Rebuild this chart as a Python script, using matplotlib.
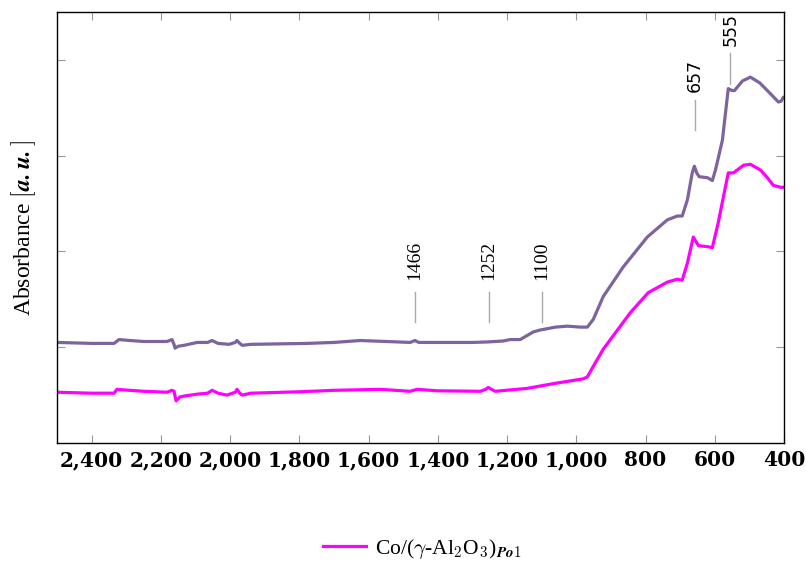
import matplotlib
matplotlib.use("Agg")
import matplotlib.pyplot as plt
from matplotlib.lines import Line2D

plt.rcParams['mathtext.fontset'] = 'cm'
plt.rcParams['font.family'] = ['Liberation Serif', 'DejaVu Serif']

# Upper (purple) spectrum
x_purple = [2500, 2400, 2335, 2321, 2289, 2250, 2182, 2168, 2162, 2159, 2150, 2133, 2095, 2065,
            2052, 2035, 2003, 1985, 1980, 1972, 1965, 1940, 1777, 1700, 1624, 1550, 1480, 1466,
            1455, 1400, 1300, 1257, 1211, 1191, 1170, 1162, 1124, 1104, 1060, 1026, 988, 968,
            951, 922, 864, 795, 737, 708, 694, 679, 665, 659, 652, 645, 621, 607, 598, 578,
            561, 550, 543, 520, 497, 470, 440, 416, 408, 402, 400]
y_purple = [1.05, 1.04, 1.04, 1.08, 1.07, 1.06, 1.06, 1.08, 1.03, 0.99, 1.01, 1.02, 1.05, 1.05,
            1.07, 1.04, 1.03, 1.05, 1.07, 1.04, 1.02, 1.03, 1.04, 1.05, 1.07, 1.06, 1.05, 1.07,
            1.05, 1.05, 1.05, 1.055, 1.065, 1.08, 1.08, 1.08, 1.16, 1.18, 1.21, 1.22, 1.21, 1.21,
            1.29, 1.53, 1.84, 2.15, 2.33, 2.37, 2.37, 2.54, 2.82, 2.89, 2.82, 2.78, 2.77, 2.74, 2.85, 3.16,
            3.70, 3.68, 3.68, 3.78, 3.82, 3.76, 3.65, 3.56, 3.57, 3.61, 3.61]

# Lower (magenta) spectrum
x_magenta = [2500, 2400, 2335, 2327, 2290, 2250, 2182, 2168, 2162, 2156, 2145, 2133, 2095, 2065,
             2052, 2035, 2009, 1985, 1980, 1972, 1965, 1940, 1798, 1700, 1566, 1480, 1460, 1400,
             1277, 1262, 1254, 1245, 1234, 1142, 1066, 980, 968, 951, 922, 844, 792, 737, 708,
             694, 679, 662, 647, 621, 607, 590, 575, 561, 546, 517, 497, 468, 448, 431, 410, 400]
y_magenta = [0.53, 0.52, 0.52, 0.56, 0.55, 0.54, 0.53, 0.55, 0.54, 0.44, 0.48, 0.49, 0.51, 0.52,
             0.55, 0.52, 0.50, 0.53, 0.56, 0.52, 0.50, 0.52, 0.535, 0.55, 0.56, 0.54, 0.56, 0.545,
             0.54, 0.56, 0.58, 0.56, 0.54, 0.57, 0.62, 0.67, 0.69, 0.80, 0.98, 1.36, 1.57, 1.68, 1.71,
             1.70, 1.88, 2.15, 2.06, 2.05, 2.04, 2.30, 2.57, 2.82, 2.82, 2.90, 2.91, 2.85, 2.77, 2.69, 2.67, 2.67]

# Peak annotations
peak_pos = [1466, 1252, 1100, 657, 555]
peak_line_lo = [1.26, 1.26, 1.26, 3.27, 3.75]
peak_line_hi = [1.58, 1.58, 1.58, 3.58, 4.07]

x_ticks = [2400, 2200, 2000, 1800, 1600, 1400, 1200, 1000, 800, 600, 400]
x_tick_labels = ['2,400', '2,200', '2,000', '1,800', '1,600', '1,400', '1,200', '1,000', '800', '600', '400']
y_ticks = [1, 2, 3, 4]

legend_label = r'Co/($\gamma$-Al$_{\mathbf{2}}$O$_{\mathbf{3}}$)$_{\mathbfit{Po}\mathbf{1}}$'

fig = plt.figure(figsize=(8.06, 5.61), dpi=100)
ax = fig.add_axes([57/806, 1-443/561, (784-57)/806, (443-12)/561])

ax.plot(x_purple, y_purple, color='#7d649e', lw=2.3, solid_joinstyle='round')
ax.plot(x_magenta, y_magenta, color='#ff00ff', lw=2.3, solid_joinstyle='round')

ax.set_xlim(2500, 400)
ax.set_ylim(0.0, 4.5)
ax.set_xticks(x_ticks)
ax.set_xticklabels(x_tick_labels, fontsize=14.5, fontweight='bold', family='DejaVu Serif')
ax.set_yticks(y_ticks)
ax.set_yticklabels([])
ax.tick_params(axis='both', direction='in', length=6, width=0.8, color='#999999',
               top=True, right=True, pad=5)
for s in ax.spines.values():
    s.set_linewidth(1.0)
    s.set_color('black')

ax.set_ylabel(r'Absorbance $[\mathbfit{a.u.}]$', fontsize=17, labelpad=9)

for i, p in enumerate(peak_pos):
    ax.plot([p, p], [peak_line_lo[i], peak_line_hi[i]], color='#aaaaaa', lw=1.0)
    if p > 1000:
        ax.text(p, peak_line_hi[i] + 0.12, str(p), rotation=90, ha='center', va='bottom',
                fontsize=14, family='Liberation Serif')
    else:
        ax.text(p, peak_line_hi[i] + 0.08, str(p), rotation=90, ha='center', va='bottom',
                fontsize=12.5, family='DejaVu Sans')

handle = Line2D([], [], color='#ff00ff', lw=2.3)
fig.legend([handle], [legend_label], loc='center', bbox_to_anchor=(422/806, 1-549/561),
           frameon=False, fontsize=15.5, handlelength=2.0, handletextpad=0.4)

fig.savefig('out.png', dpi=100)
